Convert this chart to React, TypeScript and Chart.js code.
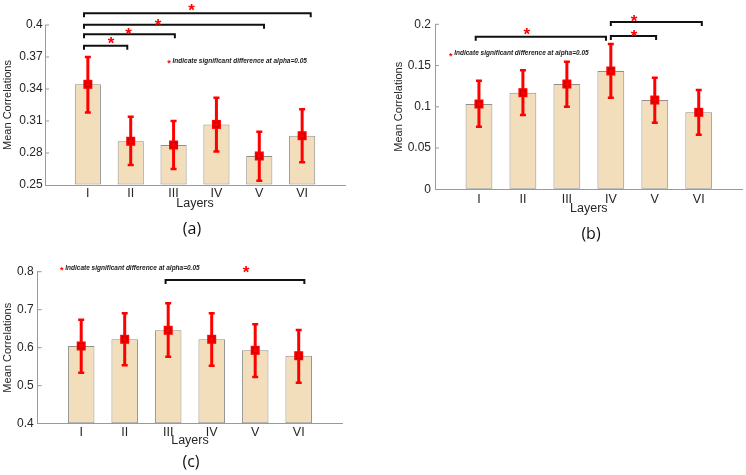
import React, { useEffect, useRef } from 'react';
import { Chart, registerables } from 'chart.js';

Chart.register(...registerables);

// ---------- data ----------
const layers = ['I', 'II', 'III', 'IV', 'V', 'VI'];
const sigNote = 'Indicate significant difference at alpha=0.05';

// panel (a)
const meanA = [0.3444, 0.2910, 0.2875, 0.3068, 0.2772, 0.2962];
const lowA = [0.3180, 0.2688, 0.2650, 0.2813, 0.2540, 0.2713];
const highA = [0.3700, 0.3140, 0.3100, 0.3319, 0.3000, 0.3210];
const yTicksA = [0.25, 0.28, 0.31, 0.34, 0.37, 0.4];
// brackets: [startX, endX, lineY, starX, starY] in data units
const bracketsA = [
  [0.91, 1.92, 0.3806, 1.54, 0.3869],
  [0.91, 3.03, 0.3913, 1.95, 0.3947],
  [0.91, 5.11, 0.4003, 2.64, 0.4040],
  [0.91, 6.20, 0.4110, 3.42, 0.4178],
];
const noteA = [2.893, 0.3665];

// panel (b)
const meanB = [0.1034, 0.1171, 0.1276, 0.1434, 0.1082, 0.0933];
const lowB = [0.0759, 0.0901, 0.1001, 0.1110, 0.0807, 0.0662];
const highB = [0.1316, 0.1442, 0.1547, 0.1761, 0.1353, 0.1204];
const yTicksB = [0, 0.05, 0.1, 0.15, 0.2];
const bracketsB = [
  [0.926, 3.89, 0.1850, 2.09, 0.1931],
  [4.0, 5.03, 0.1858, 4.53, 0.1903],
  [4.0, 6.07, 0.2028, 4.53, 0.2085],
];
const noteB = [0.357, 0.1648];

// panel (c)
const meanC = [0.6045, 0.6221, 0.6458, 0.6221, 0.5931, 0.5789];
const lowC = [0.5342, 0.5537, 0.5763, 0.5526, 0.5229, 0.5079];
const highC = [0.6737, 0.6905, 0.7168, 0.6905, 0.6616, 0.6466];
const yTicksC = [0.4, 0.5, 0.6, 0.7, 0.8];
const bracketsC = [[2.94, 6.13, 0.778, 4.79, 0.809]];
const noteC = [0.552, 0.809];

// ---------- styles ----------
const BAR_FILL = '#F3DEBB';
const BAR_EDGE = '#8f8f8f';
const AXIS = '#9a9a9a';
const TEXT = '#262626';
const RED = '#ff0000';
const FONT = '"Liberation Sans", Arial, sans-serif';

type PanelCfg = {
  left: number; top: number; width: number; height: number;
  area: { left: number; right: number; top: number; bottom: number };
  yMin: number; yMax: number; yTicks: number[];
  means: number[]; low: number[]; high: number[];
  brackets: number[][]; note: number[];
  caption: string; captionPos: number[];
  yTickPad: number; xTickPad: number; xTitlePad: number; yTitlePad: number;
};

const panels: PanelCfg[] = [
  {
    left: 0, top: 0, width: 373, height: 240,
    area: { left: 45, right: 345, top: 25, bottom: 185 },
    yMin: 0.25, yMax: 0.4, yTicks: yTicksA,
    means: meanA, low: lowA, high: highA, brackets: bracketsA, note: noteA,
    caption: '(a)', captionPos: [192, 229],
    yTickPad: 2.3, xTickPad: 0.6, xTitlePad: 28.8, yTitlePad: 1.7,
  },
  {
    left: 373, top: 0, width: 373, height: 250,
    area: { left: 62, right: 369.7, top: 24.3, bottom: 189.3 },
    yMin: 0, yMax: 0.2, yTicks: yTicksB,
    means: meanB, low: lowB, high: highB, brackets: bracketsB, note: noteB,
    caption: '(b)', captionPos: [218, 234],
    yTickPad: 4, xTickPad: 2.3, xTitlePad: 34.3, yTitlePad: 19.1,
  },
  {
    left: 0, top: 240, width: 373, height: 235,
    area: { left: 37.7, right: 342.2, top: 31.7, bottom: 183.7 },
    yMin: 0.4, yMax: 0.8, yTicks: yTicksC,
    means: meanC, low: lowC, high: highC, brackets: bracketsC, note: noteC,
    caption: '(c)', captionPos: [191, 222.5],
    yTickPad: 4, xTickPad: 1.7, xTitlePad: 26.8, yTitlePad: 1.7,
  },
];

function drawStar(ctx: CanvasRenderingContext2D, x: number, y: number, size: number) {
  ctx.save();
  ctx.fillStyle = RED;
  ctx.font = `bold ${size}px ${FONT}`;
  ctx.textAlign = 'center';
  ctx.textBaseline = 'alphabetic';
  ctx.fillText('*', x, y + 0.575 * size);
  ctx.restore();
}

function makePlugin(cfg: PanelCfg) {
  return {
    id: 'sigMarks',
    afterDatasetsDraw(chart: any) {
      const ctx: CanvasRenderingContext2D = chart.ctx;
      const ys = chart.scales.y;
      const meta = chart.getDatasetMeta(0);
      ctx.save();
      cfg.low.forEach((lo, i) => {
        const el = meta.data[i];
        const x = el.x;
        const yl = ys.getPixelForValue(lo);
        const yh = ys.getPixelForValue(cfg.high[i]);
        const ym = ys.getPixelForValue(cfg.means[i]);
        ctx.strokeStyle = RED;
        ctx.lineWidth = 3;
        ctx.beginPath();
        ctx.moveTo(x, yl);
        ctx.lineTo(x, yh);
        ctx.stroke();
        ctx.lineWidth = 2.5;
        ctx.beginPath();
        ctx.moveTo(x - 3, yl); ctx.lineTo(x + 3, yl);
        ctx.moveTo(x - 3, yh); ctx.lineTo(x + 3, yh);
        ctx.stroke();
        ctx.fillStyle = RED;
        ctx.fillRect(x - 4.5, ym - 4.5, 9, 9);
        ctx.strokeStyle = '#c80000';
        ctx.lineWidth = 1;
        ctx.strokeRect(x - 2.5, ym - 2.5, 5, 5);
      });
      ctx.restore();
    },
    afterDraw(chart: any) {
      const ctx: CanvasRenderingContext2D = chart.ctx;
      const xs = chart.scales.x;
      const ys = chart.scales.y;
      const area = chart.chartArea;
      ctx.save();
      // inward y tick marks
      ctx.strokeStyle = AXIS;
      ctx.lineWidth = 1;
      cfg.yTicks.forEach((v) => {
        const y = ys.getPixelForValue(v);
        if (Math.abs(y - area.bottom) < 1) return;
        ctx.beginPath();
        ctx.moveTo(area.left, y);
        ctx.lineTo(area.left + 4, y);
        ctx.stroke();
      });
      // significance brackets
      ctx.strokeStyle = '#111111';
      ctx.lineWidth = 2;
      ctx.lineJoin = 'miter';
      cfg.brackets.forEach(([x1, x2, yv, sx, sy]) => {
        const p1 = xs.getPixelForValue(x1);
        const p2 = xs.getPixelForValue(x2);
        const py = ys.getPixelForValue(yv);
        ctx.beginPath();
        ctx.moveTo(p1, py + 4);
        ctx.lineTo(p1, py);
        ctx.lineTo(p2, py);
        ctx.lineTo(p2, py + 4);
        ctx.stroke();
        drawStar(ctx, xs.getPixelForValue(sx), ys.getPixelForValue(sy), 17);
      });
      // note
      const nx = xs.getPixelForValue(cfg.note[0]);
      const ny = ys.getPixelForValue(cfg.note[1]);
      drawStar(ctx, nx, ny, 9);
      ctx.fillStyle = '#1a1a1a';
      ctx.font = `italic bold 6.5px ${FONT}`;
      ctx.textAlign = 'left';
      ctx.textBaseline = 'middle';
      ctx.fillText(sigNote, nx + 3.5, ny);
      // caption
      ctx.fillStyle = '#111111';
      ctx.font = '16px "Open Sans", "Noto Sans", sans-serif';
      ctx.textAlign = 'center';
      ctx.textBaseline = 'middle';
      ctx.fillText(cfg.caption, cfg.captionPos[0], cfg.captionPos[1]);
      ctx.restore();
    },
  };
}

function Panel({ cfg }: { cfg: PanelCfg }) {
  const ref = useRef<HTMLCanvasElement>(null);
  useEffect(() => {
    if (!ref.current) return;
    const { width: W, height: H, area } = cfg;
    const chart = new Chart(ref.current, {
      type: 'bar',
      data: {
        datasets: [
          {
            data: cfg.means.map((m, i) => ({ x: i + 1, y: m })),
            backgroundColor: BAR_FILL,
            borderColor: BAR_EDGE,
            borderWidth: 1,
            borderSkipped: false,
            barPercentage: 0.61,
            categoryPercentage: 1,
            base: cfg.yMin,
          } as any,
        ],
      },
      options: {
        responsive: false,
        animation: false,
        devicePixelRatio: 1,
        layout: { padding: { left: 0, top: area.top, right: W - area.right, bottom: 0 } },
        plugins: { legend: { display: false }, tooltip: { enabled: false } },
        scales: {
          x: {
            type: 'linear',
            min: 0,
            max: 7,
            offset: false,
            afterBuildTicks: (s: any) => {
              s.ticks = layers.map((_, i) => ({ value: i + 1 }));
            },
            afterFit: (s: any) => {
              s.height = H - area.bottom;
            },
            ticks: {
              callback: (v: any) => layers[Math.round(v) - 1] ?? '',
              autoSkip: false,
              maxRotation: 0,
              padding: cfg.xTickPad,
              color: TEXT,
              font: { family: FONT, size: 12.5 },
            },
            grid: { display: true, drawOnChartArea: false, drawTicks: false },
            border: { display: true, color: AXIS, width: 1 },
            title: {
              display: true,
              text: 'Layers',
              color: TEXT,
              font: { family: FONT, size: 12.5 },
              padding: { top: 0, bottom: cfg.xTitlePad },
            },
          },
          y: {
            type: 'linear',
            min: cfg.yMin,
            max: cfg.yMax,
            afterBuildTicks: (s: any) => {
              s.ticks = cfg.yTicks.map((v) => ({ value: v }));
            },
            afterFit: (s: any) => {
              s.width = area.left;
            },
            ticks: {
              callback: (v: any) => String(+Number(v).toFixed(2)),
              padding: cfg.yTickPad,
              color: TEXT,
              font: { family: FONT, size: 12 },
            },
            grid: { display: true, drawOnChartArea: false, drawTicks: false },
            border: { display: true, color: AXIS, width: 1 },
            title: {
              display: true,
              text: 'Mean Correlations',
              color: TEXT,
              font: { family: FONT, size: 11 },
              padding: { top: cfg.yTitlePad, bottom: 0 },
            },
          },
        },
      },
      plugins: [makePlugin(cfg)],
    } as any);
    return () => chart.destroy();
  }, [cfg]);
  return (
    <div style={{ position: 'absolute', left: cfg.left, top: cfg.top, width: cfg.width, height: cfg.height }}>
      <canvas ref={ref} width={cfg.width} height={cfg.height} style={{ width: cfg.width, height: cfg.height, display: 'block' }} />
    </div>
  );
}

export default function App() {
  return (
    <div style={{ position: 'absolute', left: 0, top: 0, width: 746, height: 475, background: '#ffffff', overflow: 'hidden' }}>
      {panels.map((p) => (
        <Panel key={p.caption} cfg={p} />
      ))}
    </div>
  );
}
